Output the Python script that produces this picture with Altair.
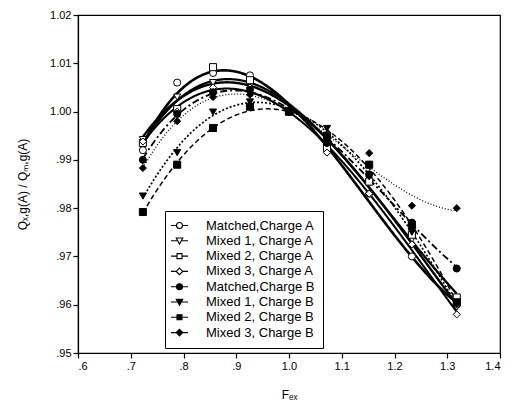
import altair as alt
import pandas as pd

series = ["Matched,Charge A", "Mixed 1, Charge A", "Mixed 2, Charge A", "Mixed 3, Charge A",
          "Matched,Charge B", "Mixed 1, Charge B", "Mixed 2, Charge B", "Mixed 3, Charge B"]

fex = [0.723, 0.788, 0.856, 0.926, 1.000, 1.072, 1.152, 1.233, 1.318]
matched_a = [0.9920, 1.0060, 1.0080, 1.0075, 1.0000, 0.9920, 0.9830, 0.9700, 0.9600]
mixed1_a = [0.9942, 1.0030, 1.0060, 1.0060, 1.0000, 0.9935, 0.9850, 0.9735, 0.9595]
mixed2_a = [0.9935, 1.0005, 1.0092, 1.0065, 1.0000, 0.9925, 0.9855, 0.9745, 0.9615]
mixed3_a = [0.9938, 1.0000, 1.0050, 1.0050, 1.0000, 0.9915, 0.9830, 0.9725, 0.9580]
matched_b = [0.9900, 0.9995, 1.0040, 1.0045, 1.0000, 0.9935, 0.9870, 0.9770, 0.9675]
mixed1_b = [0.9825, 0.9915, 0.9999, 1.0020, 1.0000, 0.9965, 0.9865, 0.9750, 0.9600]
mixed2_b = [0.9792, 0.9890, 0.9966, 1.0010, 1.0000, 0.9950, 0.9890, 0.9765, 0.9605]
mixed3_b = [0.9883, 0.9980, 1.0030, 1.0035, 1.0000, 0.9940, 0.9914, 0.9805, 0.9800]

values = [matched_a, mixed1_a, mixed2_a, mixed3_a, matched_b, mixed1_b, mixed2_b, mixed3_b]

x_ticks = [0.6, 0.7, 0.8, 0.9, 1.0, 1.1, 1.2, 1.3, 1.4]
y_ticks = [0.95, 0.96, 0.97, 0.98, 0.99, 1.00, 1.01, 1.02]

rows = []
for s, vals in zip(series, values):
    for xv, yv in zip(fex, vals):
        rows.append({"series": s, "series2": s, "fex": xv, "q": yv})
df = pd.DataFrame(rows)

shapes = ["circle", "triangle-down", "square", "diamond",
          "circle", "triangle-down", "square", "diamond"]
fills = ["white"] * 4 + ["black"] * 4
dashes = [[1, 0], [1, 0], [1, 0], [1, 0], [7, 3, 2, 3], [2, 2], [5, 3], [1, 2]]
widths = [2.6, 1.3, 1.7, 1.0, 1.1, 1.1, 1.1, 1.1]

seg_circle = "M-1.7,0L-0.6,0M0.6,0L1.7,0M0.6,0A0.6,0.6,0,1,1,-0.6,0A0.6,0.6,0,1,1,0.6,0Z"
seg_tri = "M-1.7,0L-0.32,0M0.32,0L1.7,0M-0.65,-0.55L0.65,-0.55L0,0.65Z"
seg_sq = "M-1.7,0L-0.5,0M0.5,0L1.7,0M-0.5,-0.5L0.5,-0.5L0.5,0.5L-0.5,0.5Z"
seg_dia = "M-1.7,0L-0.65,0M0.65,0L1.7,0M0,-0.65L0.65,0L0,0.65L-0.65,0Z"
legend_shapes = [seg_circle, seg_tri, seg_sq, seg_dia] * 2

FONT = "Liberation Sans"

x_enc = alt.X("fex:Q", scale=alt.Scale(domain=[0.6, 1.4], nice=False, zero=False),
              axis=alt.Axis(values=x_ticks, title="Fₑₓ", titlePadding=18,
                            labelExpr="datum.value < 1 ? substring(format(datum.value, '.1f'), 1) : format(datum.value, '.1f')"))
y_enc = alt.Y("q:Q", scale=alt.Scale(domain=[0.95, 1.02], nice=False, zero=False),
              axis=alt.Axis(values=y_ticks, title="Qₓ,g(A) / Qₘ,g(A)", titlePadding=20,
                            labelExpr="datum.value < 1 ? substring(format(datum.value, '.2f'), 1) : format(datum.value, '.2f')"))

base = alt.Chart(df)

lines = base.transform_regression(
    "fex", "q", method="poly", order=3, groupby=["series"]
).mark_line(color="black").encode(
    x=x_enc, y=y_enc,
    strokeDash=alt.StrokeDash("series:N", scale=alt.Scale(domain=series, range=dashes), legend=None),
    strokeWidth=alt.StrokeWidth("series:N", scale=alt.Scale(domain=series, range=widths), legend=None),
)

points = base.mark_point(filled=True, stroke="black", strokeWidth=1, size=50, opacity=1, fillOpacity=1).encode(
    x=x_enc, y=y_enc,
    shape=alt.Shape("series:N", scale=alt.Scale(domain=series, range=shapes), legend=None),
    fill=alt.Fill("series:N", scale=alt.Scale(domain=series, range=fills), legend=None),
)

leg = alt.Legend(title=None, orient="none", legendX=87, legendY=196,
                 symbolOpacity=1, symbolStrokeColor="black", symbolStrokeWidth=1.1,
                 symbolSize=100, labelFont=FONT, labelFontSize=13, labelColor="black",
                 labelOffset=20, padding=8, strokeColor="black", fillColor="white",
                 rowPadding=1.3, labelLimit=300)

legend_layer = base.mark_point(filled=False, opacity=0).encode(
    x=x_enc, y=y_enc,
    shape=alt.Shape("series2:N", scale=alt.Scale(domain=series, range=legend_shapes), legend=leg),
    fill=alt.Fill("series2:N", scale=alt.Scale(domain=series, range=fills), legend=leg),
    stroke=alt.Stroke("series2:N", scale=alt.Scale(domain=series, range=["black"] * 8), legend=leg),
)

chart = alt.layer(lines, points, legend_layer).resolve_scale(
    shape="independent", fill="independent", stroke="independent"
).properties(
    width=422, height=338,
    autosize=alt.AutoSizeParams(type="none"),
    padding={"left": 70, "top": 7, "right": 6, "bottom": 48},
).configure_view(
    stroke="black", strokeWidth=1.2
).configure_axis(
    labelFont=FONT, titleFont=FONT, labelFontSize=11, titleFontSize=12,
    labelColor="black", titleColor="black", domainColor="black", tickColor="black",
    grid=False, tickSize=5, titleFontWeight="normal", domainWidth=1.2, tickWidth=1.2
)

chart.save("out.html", embed_options={"renderer": "svg", "actions": False})
